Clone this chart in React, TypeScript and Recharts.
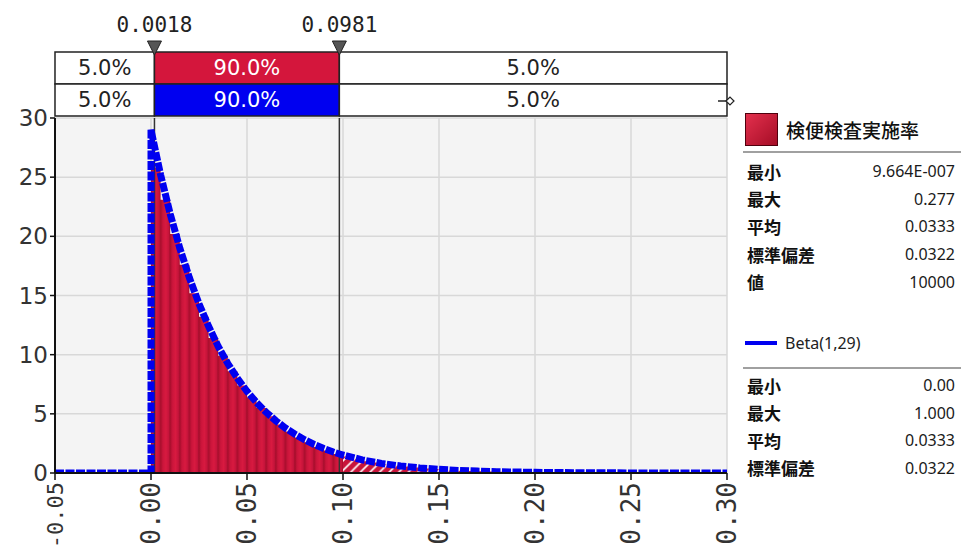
import React from 'react';
import {
  ComposedChart, Area, Line, XAxis, YAxis, CartesianGrid,
  ReferenceLine, ReferenceArea,
} from 'recharts';

// histogram bins (left edge) and density height
const binStarts = [
  0, 0.005, 0.01, 0.015, 0.02, 0.025, 0.03, 0.035, 0.04, 0.045,
  0.05, 0.055, 0.06, 0.065, 0.07, 0.075, 0.08, 0.085, 0.09, 0.095,
  0.1, 0.105, 0.11, 0.115, 0.12, 0.125, 0.13, 0.135, 0.14, 0.145,
  0.15, 0.155, 0.16, 0.165, 0.17, 0.175, 0.18, 0.185, 0.19, 0.195,
  0.2, 0.205, 0.21, 0.215, 0.22, 0.225, 0.23, 0.235, 0.24, 0.245,
  0.25, 0.255, 0.26, 0.265, 0.27, 0.275, 0.28,
];
const binDensity = [
  25.8, 23.1, 20.2, 17.6, 15.2, 13.2, 11.4, 9.9, 8.6, 7.4,
  6.4, 5.5, 4.8, 4.1, 3.5, 3.0, 2.6, 2.2, 1.9, 1.6,
  1.4, 1.2, 1.0, 0.88, 0.75, 0.64, 0.54, 0.46, 0.39, 0.33,
  0.28, 0.24, 0.2, 0.17, 0.14, 0.12, 0.1, 0.085, 0.07, 0.06,
  0.05, 0.04, 0.035, 0.03, 0.02, 0.02, 0.015, 0.01, 0.01, 0.008,
  0.006, 0.004, 0.004, 0.002, 0.002, 0.002, 0.002,
];

// fitted Beta(1,29) curve
const betaX = [
  -0.05, 0, 0, 0.005, 0.01, 0.015, 0.02, 0.025, 0.03, 0.035, 0.04, 0.045,
  0.05, 0.055, 0.06, 0.065, 0.07, 0.075, 0.08, 0.085, 0.09, 0.095, 0.1,
  0.11, 0.12, 0.13, 0.14, 0.15, 0.16, 0.17, 0.18, 0.2, 0.22, 0.25, 0.3,
];
const betaY = [
  0, 0, 29, 25.2, 21.9, 19.0, 16.5, 14.3, 12.4, 10.7, 9.25, 8.0,
  6.9, 5.95, 5.13, 4.42, 3.8, 3.27, 2.81, 2.41, 2.07, 1.77, 1.52,
  1.11, 0.81, 0.59, 0.43, 0.31, 0.22, 0.16, 0.11, 0.056, 0.027, 0.009, 0.001,
];

const xTicks = [-0.05, 0, 0.05, 0.1, 0.15, 0.2, 0.25, 0.3];
const yTicks = [0, 5, 10, 15, 20, 25, 30];

// delimiters and band percentages
const cutLow = 0.0018;
const cutHigh = 0.0981;
const bandEdges = [-0.05, cutLow, cutHigh, 0.3];
const histPercents = ['5.0%', '90.0%', '5.0%'];
const fitPercents = ['5.0%', '90.0%', '5.0%'];

const histStats = [
  ['最小', '9.664E-007'],
  ['最大', '0.277'],
  ['平均', '0.0333'],
  ['標準偏差', '0.0322'],
  ['値', '10000'],
];
const fitStats = [
  ['最小', '0.00'],
  ['最大', '1.000'],
  ['平均', '0.0333'],
  ['標準偏差', '0.0322'],
];

const W = 961;
const H = 549;
const M = { top: 118, right: 234, bottom: 10, left: 10 };
const Y_W = 45;
const X_H = 66;
const plotLeft = M.left + Y_W;
const plotW = W - plotLeft - M.right;
const binPx = (0.005 / 0.35) * plotW;
const zeroPx = plotLeft + (0 - -0.05) / 0.35 * plotW;

const bins = binStarts.map((x, i) => ({ x, h: binDensity[i] }));
const mainData = bins.filter((b) => b.x <= 0.1);
const tailData = bins.filter((b) => b.x >= 0.1);
const betaData = betaX.map((x, i) => ({ x, d: betaY[i] }));

const RED = '#d4163c';
const BLUE = '#0000f0';

const XTick = (props: any) => {
  const { x, y, payload } = props;
  const v = Number(payload.value);
  // the negative label is longer, keep it inside the picture
  const size = v < 0 ? 22 : 26;
  return (
    <text
      x={x} y={y}
      transform={`rotate(-90 ${x} ${y})`}
      textAnchor="end"
      dominantBaseline="central"
      fontFamily="DejaVu Sans Mono"
      fontSize={size}
      fill="#333"
    >
      {v.toFixed(2)}
    </text>
  );
};

const markerLabel = (text: string) => (props: any) => {
  const { x, y } = props.viewBox;
  return (
    <g>
      <text x={x} y={y - 93} textAnchor="middle" dominantBaseline="central"
        fontFamily="DejaVu Sans Mono" fontSize={21} fill="#222">{text}</text>
      <polygon points={`${x - 7},${y - 77} ${x + 7},${y - 77} ${x},${y - 63}`}
        fill="#555" stroke="#222" strokeWidth={1} />
    </g>
  );
};

const statRow = (label: string, value: string, top: number) => (
  <div key={label + top} style={{ position: 'absolute', left: 747, top, width: 208, height: 24,
    display: 'flex', justifyContent: 'space-between', alignItems: 'center' }}>
    <span style={{ fontFamily: 'Noto Sans CJK JP', fontWeight: 700, fontSize: 17, color: '#111' }}>{label}</span>
    <span style={{ fontFamily: 'Noto Sans', fontSize: 16, color: '#1a1a1a' }}>{value}</span>
  </div>
);

export default function App() {
  const bandRow = (y1: number, y2: number, labels: string[], mid: string) =>
    labels.map((p, i) => (
      <ReferenceArea
        key={`${y1}-${i}`}
        x1={bandEdges[i]} x2={bandEdges[i + 1]} y1={y1} y2={y2}
        ifOverflow="visible"
        fill={i === 1 ? mid : '#ffffff'} fillOpacity={1}
        stroke="#222" strokeWidth={1.5}
        label={{ value: p, position: 'center', fill: i === 1 ? '#fff' : '#222',
          fontSize: 21, fontFamily: 'DejaVu Sans' }}
      />
    ));

  return (
    <div style={{ position: 'absolute', left: 0, top: 0, width: W, height: H, background: '#fff' }}>
      <ComposedChart width={W} height={H} margin={M}>
        <defs>
          <linearGradient id="barGrad" x1="0" y1="0" x2="1" y2="0">
            <stop offset="0" stopColor="#a50e2b" />
            <stop offset="0.2" stopColor="#c8143a" />
            <stop offset="0.55" stopColor="#d81a40" />
            <stop offset="0.85" stopColor="#c4133a" />
            <stop offset="1" stopColor="#a00e2a" />
          </linearGradient>
          <pattern id="bars" patternUnits="userSpaceOnUse" x={zeroPx} y={0} width={binPx} height={H}>
            <rect width={binPx} height={H} fill="url(#barGrad)" />
          </pattern>
          <pattern id="hatch" patternUnits="userSpaceOnUse" x={zeroPx} y={0} width={binPx} height={binPx}>
            <rect width={binPx} height={binPx} fill="#c8143a" />
            <path d={`M0,${binPx} L${binPx},0 M${-binPx / 4},${binPx / 4} L${binPx / 4},${-binPx / 4} M${binPx * 0.75},${binPx * 1.25} L${binPx * 1.25},${binPx * 0.75}`}
              stroke="#ffffff" strokeWidth={1.6} />
          </pattern>
        </defs>
        <CartesianGrid fill="#f4f4f4" stroke="#d8d8d8" strokeWidth={1.5} />
        <XAxis
          type="number" dataKey="x" domain={[-0.05, 0.3]} ticks={xTicks}
          interval={0} allowDataOverflow height={X_H}
          tick={<XTick />} tickSize={7}
          axisLine={{ stroke: '#111', strokeWidth: 2 }}
          tickLine={{ stroke: '#111', strokeWidth: 1.5 }}
        />
        <YAxis
          type="number" domain={[0, 30]} ticks={yTicks} interval={0}
          allowDataOverflow width={Y_W} tickSize={5}
          tick={{ fill: '#333', fontSize: 23, fontFamily: 'DejaVu Sans' }}
          axisLine={{ stroke: '#111', strokeWidth: 2 }}
          tickLine={{ stroke: '#111', strokeWidth: 1.5 }}
        />
        <Area data={mainData} dataKey="h" type="stepAfter" stroke="none"
          fill="url(#bars)" fillOpacity={1} isAnimationActive={false} />
        <Area data={tailData} dataKey="h" type="stepAfter" stroke="none"
          fill="url(#hatch)" fillOpacity={1} isAnimationActive={false} />
        <ReferenceLine x={cutLow} stroke="#333" strokeWidth={1.5} label={markerLabel('0.0018')} />
        <ReferenceLine x={cutHigh} stroke="#333" strokeWidth={1.5} label={markerLabel('0.0981')} />
        <Line data={betaData} dataKey="d" type="linear" stroke={BLUE} strokeWidth={7}
          strokeDasharray="9 1.5" dot={false} activeDot={false} isAnimationActive={false} />
        {bandRow(32.87, 35.58, histPercents, RED)}
        {bandRow(30.17, 32.87, fitPercents, BLUE)}
      </ComposedChart>

      {/* small handle at end of the fit band */}
      <svg style={{ position: 'absolute', left: 716, top: 94 }} width={20} height={14}>
        <line x1={2} y1={7} x2={10} y2={7} stroke="#222" strokeWidth={1.5} />
        <path d="M10,7 L14,3 L18,7 L14,11 Z" fill="#fff" stroke="#222" strokeWidth={1.2} />
      </svg>

      {/* legend / statistics panel */}
      <div style={{ position: 'absolute', left: 745, top: 113, width: 31, height: 31,
        background: 'linear-gradient(135deg, #e3304d, #a50d26)', border: '1px solid #50000e' }} />
      <div style={{ position: 'absolute', left: 786, top: 116, fontFamily: 'Noto Sans CJK JP',
        fontWeight: 500, fontSize: 19, color: '#111', lineHeight: '28px' }}>検便検査実施率</div>
      <div style={{ position: 'absolute', left: 743, top: 151, width: 218, height: 2, background: '#a0a0a0' }} />
      {histStats.map(([l, v], i) => statRow(l, v, 159 + i * 27.7))}

      <div style={{ position: 'absolute', left: 745, top: 341, width: 32, height: 4, background: BLUE }} />
      <div style={{ position: 'absolute', left: 785, top: 330, fontFamily: 'Noto Sans', fontSize: 16,
        color: '#222', lineHeight: '26px' }}>Beta(1,29)</div>
      <div style={{ position: 'absolute', left: 743, top: 367, width: 218, height: 2, background: '#a0a0a0' }} />
      {fitStats.map(([l, v], i) => statRow(l, v, 373 + i * 27.5))}
    </div>
  );
}
